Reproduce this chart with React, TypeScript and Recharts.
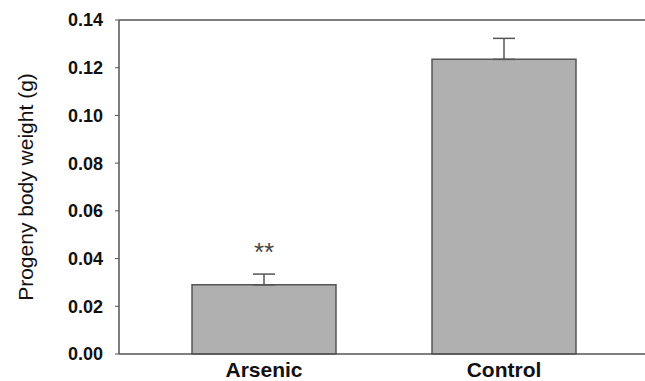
import { BarChart, Bar, XAxis, YAxis, ErrorBar, LabelList, ReferenceLine } from 'recharts';

const groups = ['Arsenic', 'Control'];
const weights = [0.029, 0.1235];
const errors = [0.0045, 0.0088];
const marks = ['**', ''];
const yTicks = [0, 0.02, 0.04, 0.06, 0.08, 0.1, 0.12, 0.14];

const data = groups.map((g, i) => ({
  name: g,
  weight: weights[i],
  err: [0, errors[i]],
  sig: marks[i],
}));

const font = 'Arial, Liberation Sans, sans-serif';

const StarLabel = (props: any) => {
  const { x, width, y, value } = props;
  if (!value) return null;
  return (
    <text x={x + width / 2} y={y - 24} textAnchor="middle" fill="#444" fontSize={26} fontFamily={font}>
      {value}
    </text>
  );
};

export default function App() {
  return (
    <div style={{ position: 'absolute', left: 0, top: 0, background: '#fff' }}>
      <BarChart
        width={645}
        height={381}
        data={data}
        margin={{ top: 20, right: 0, bottom: 0, left: 59 }}
        barCategoryGap="20%"
      >
        <XAxis
          dataKey="name"
          padding={{ left: 25, right: 21 }}
          tickLine={false}
          axisLine={{ stroke: '#555', strokeWidth: 1.5 }}
          tick={{ fill: '#111', fontSize: 21, fontWeight: 'bold', fontFamily: font }}
          tickMargin={2}
          height={27}
        />
        <YAxis
          domain={[0, 0.14]}
          ticks={yTicks}
          tickFormatter={(v: number) => v.toFixed(2)}
          width={60}
          tickSize={4}
          tickLine={{ stroke: '#555' }}
          axisLine={{ stroke: '#555', strokeWidth: 1.5 }}
          tick={{ fill: '#111', fontSize: 18, fontWeight: 'bold', fontFamily: font }}
          tickMargin={12}
          label={{
            value: 'Progeny body weight (g)',
            angle: -90,
            position: 'insideLeft',
            offset: -33,
            style: { textAnchor: 'middle', fill: '#111', fontSize: 21, fontFamily: font },
          }}
        />
        <ReferenceLine y={0.14} stroke="#555" strokeWidth={1.5} />
        <Bar dataKey="weight" fill="#b0b0b0" stroke="#555" strokeWidth={1.5} isAnimationActive={false}>
          <ErrorBar dataKey="err" direction="y" width={11} stroke="#555" strokeWidth={1.5} />
          <LabelList dataKey="sig" content={<StarLabel />} />
        </Bar>
      </BarChart>
    </div>
  );
}
